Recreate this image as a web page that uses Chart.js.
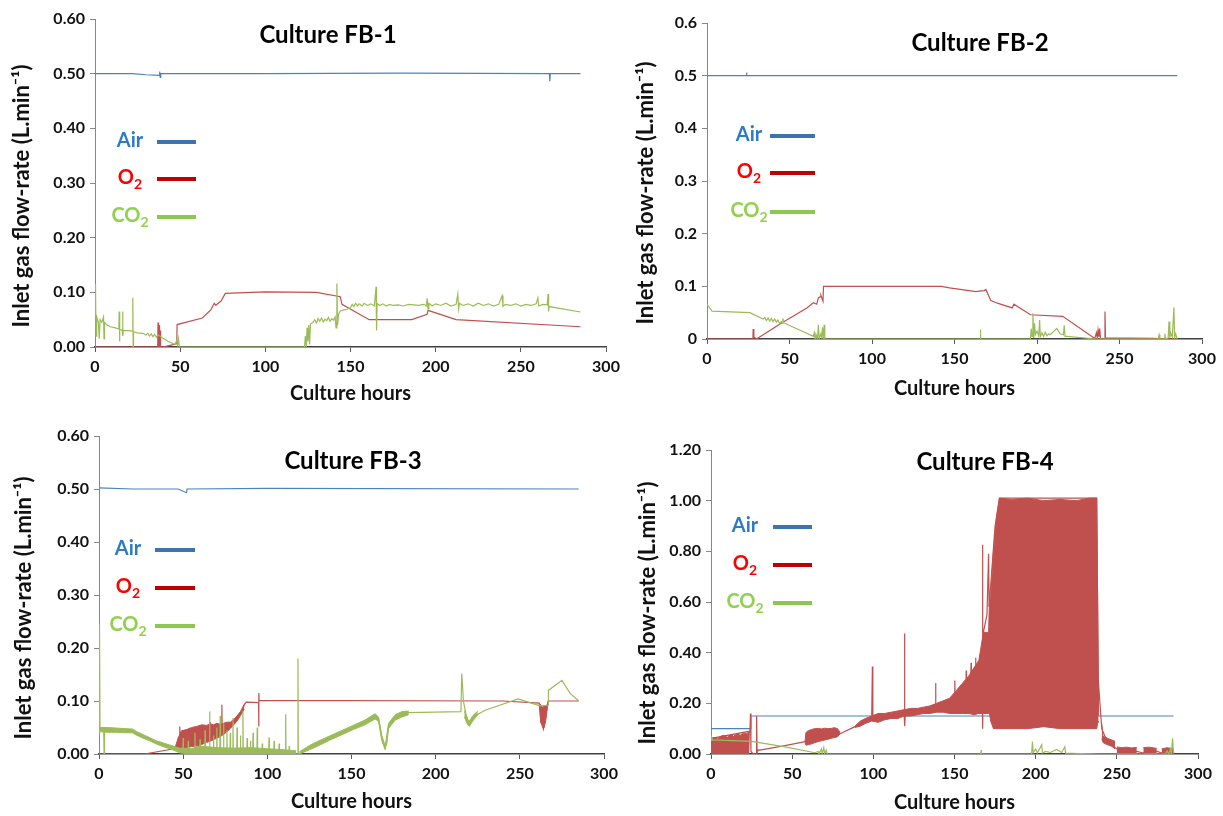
<!DOCTYPE html>
<html>
<head>
<meta charset="utf-8"/>
<style>
  html,body{margin:0;padding:0;background:#fff;}
  #wrap{position:relative;width:1223px;height:816px;overflow:hidden;background:#fff;}
  canvas{position:absolute;}
</style>
</head>
<body>
<div id="wrap">
  <canvas id="fb1" width="640" height="410" style="left:0;top:0"></canvas>
  <canvas id="fb3" width="640" height="406" style="left:0;top:410px"></canvas>
  <canvas id="fb2" width="611" height="410" style="left:612px;top:0"></canvas>
  <canvas id="fb4" width="611" height="406" style="left:612px;top:410px"></canvas>
</div>
<script src="https://cdn.jsdelivr.net/npm/chart.js@4.4.0/dist/chart.umd.min.js"></script>
<script>
// ---- data: [hour, L/min] pairs; bands are [hour, low, high] ----
const xTicks = [0, 50, 100, 150, 200, 250, 300];
const legendNames = ["Air", "O", "CO"];
const legendSubs  = ["", "2", "2"];

// Culture FB-1
const fb1Air = [[0,0.500],[22,0.500],[30,0.498],[37.8,0.497],[38,0.504],[38.3,0.493],[38.6,0.500],[100,0.500],[180,0.501],[266.8,0.500],[267,0.486],[267.3,0.500],[285,0.500]];
const fb1O2  = [[0,0],[36.8,0],[37,0.045],[37.3,0],[37.6,0.040],[37.9,0],[38.2,0.030],[38.5,0],[40,0],[44,0.003],[48,0.006],[48.2,0.041],[63,0.053],[68,0.068],[70,0.080],[71,0.076],[72,0.079],[74,0.084],[76.5,0.098],[100,0.101],[130,0.100],[144,0.092],[145,0.078],[161,0.050],[186,0.050],[195,0.060],[195.5,0.067],[212,0.050],[285,0.037]];
const fb1CO2 = [[0,0.060],[0.3,0.115],[0.6,0.020],[1,0.055],[2,0.045],[2.5,0.015],[3,0.050],[4,0.045],[5,0.055],[5.3,0.015],[5.6,0.045],[7,0.040],[9,0.037],[12,0.035],[14,0.033],[14.2,0.065],[14.4,0.010],[14.6,0.032],[16,0.031],[16.2,0.065],[16.4,0.020],[16.6,0.030],[20,0.030],[22,0.029],[22.2,0.090],[22.4,0],[22.6,0.028],[25,0.026],[28,0.025],[30,0.022],[31,0.025],[32,0.020],[33,0.024],[34,0.019],[35,0.023],[36,0.018],[37,0.022],[38,0.020],[40,0.016],[43,0.010],[46,0.006],[47,0.005],[48,0.012],[48.5,0.004],[49,0.015],[49.5,0],[123,0],[123.5,0.020],[124,0],[124.5,0.035],[125,0.010],[125.5,0.040],[126,0.005],[126.5,0.042],[128,0.045],[129,0.050],[130,0.044],[131,0.052],[132,0.047],[133,0.053],[134,0.046],[135,0.051],[136,0.048],[137,0.054],[138,0.047],[139,0.052],[140,0.049],[141,0.055],[141.5,0.035],[142,0.116],[142.4,0.040],[143,0.060],[144,0.066],[146,0.068],[148,0.069],[150,0.072],[151,0.078],[152,0.074],[153,0.080],[154,0.075],[155,0.079],[157,0.075],[158,0.080],[160,0.076],[162,0.079],[164,0.075],[165,0.110],[165.3,0.030],[165.6,0.080],[167,0.076],[169,0.079],[171,0.075],[173,0.078],[175,0.076],[178,0.077],[181,0.075],[184,0.078],[187,0.077],[190,0.076],[193,0.078],[194.5,0.075],[195,0.089],[195.5,0.070],[196,0.080],[198,0.075],[200,0.079],[203,0.076],[206,0.080],[209,0.075],[212,0.078],[213,0.097],[213.5,0.070],[214,0.080],[216,0.076],[219,0.079],[222,0.075],[225,0.080],[228,0.076],[231,0.079],[234,0.075],[237,0.078],[239,0.094],[239.5,0.074],[241,0.078],[244,0.076],[247,0.079],[250,0.075],[253,0.078],[256,0.076],[259,0.079],[260,0.090],[260.5,0.075],[263,0.078],[265.5,0.077],[266,0.097],[266.3,0.065],[266.6,0.074],[285,0.064]];

// Culture FB-2
const fb2Air = [[0,0.5],[23.8,0.5],[24,0.506],[24.2,0.5],[285,0.5]];
const fb2O2  = [[0,0],[27.8,0],[28,0.019],[28.4,0.004],[30,0],[45,0.030],[60.5,0.059],[64.5,0.069],[66.5,0.066],[67.5,0.078],[68.5,0.080],[69,0.083],[70.3,0.072],[70.6,0.100],[142,0.100],[147,0.097],[163,0.090],[165,0.091],[168,0.092],[169,0.094],[172,0.073],[176,0.068],[185,0.059],[186,0.066],[196,0.046],[215.6,0.043],[235,0.001],[236,0.012],[236.5,0.002],[237,0.017],[237.5,0.004],[238,0.020],[238.5,0],[241,0],[241.2,0.052],[241.5,0.002],[270,0.001],[285,0]];
const fb2CO2 = [[0,0.066],[3,0.053],[26,0.050],[34,0.038],[35,0.041],[36,0.035],[37,0.040],[38,0.034],[39,0.039],[40,0.033],[41,0.038],[42,0.032],[43,0.036],[44,0.030],[45,0.033],[45.8,0.030],[46,0.039],[46.4,0.031],[64.5,0.005],[65,0.012],[65.5,0],[66,0.009],[67,0.002],[67.5,0.027],[68,0],[69,0.010],[69.5,0.003],[70,0.022],[70.5,0],[71,0.027],[71.4,0],[165.5,0],[165.7,0.018],[165.9,0],[196,0],[196.5,0.020],[197,0.005],[197.5,0.049],[198,0.002],[198.5,0.030],[199,0.008],[200,0.015],[201,0.006],[201.6,0.036],[202,0.004],[203,0.012],[204,0.005],[205,0.013],[206,0.006],[207,0.010],[208,0.008],[210,0.014],[212,0.020],[214,0.010],[216,0.008],[216.5,0.026],[217,0.005],[218,0.005],[236,0],[273.5,0],[274,0.008],[274.5,0],[277,0],[277.5,0.010],[278,0],[279.5,0.002],[280,0.033],[280.5,0.002],[281,0.012],[282,0.004],[283,0.060],[283.4,0.002],[284,0.010],[285,0]];

// Culture FB-3
const fb3Air = [[0,0.502],[20,0.500],[47,0.500],[52,0.493],[52.3,0.500],[100,0.501],[285,0.500]];
const fb3O2  = [[0,0],[27,0],[43,0.009],[46,0.012],[47.8,0.015],[48,0.052],[48.2,0.02],[60,0.03],[65.8,0.04],[66,0.06],[66.2,0.03],[72.8,0.05],[73,0.093],[73.2,0.04],[84,0.075],[86.5,0.094],[87.5,0.098],[94.8,0.097],[94.9,0.052],[95,0.115],[95.1,0.101],[240,0.100],[261.5,0.096],[262.5,0.06],[264,0.047],[265,0.08],[266.5,0.095],[266.8,0.100],[285,0.100]];
const fb3O2BandA = [[45,0.008,0.010],[47,0.010,0.030],[49,0.011,0.044],[52,0.012,0.046],[55,0.014,0.050],[58,0.015,0.052],[61,0.018,0.055],[64,0.022,0.054],[66,0.024,0.057],[68,0.027,0.055],[70,0.030,0.058],[72,0.033,0.056],[74,0.037,0.058],[76,0.042,0.060],[78,0.048,0.060],[80,0.055,0.065],[82,0.062,0.072],[84,0.072,0.080],[86.3,0.085,0.094]];
const fb3O2BandB = [[261.8,0.090,0.095],[262.5,0.060,0.092],[263.5,0.055,0.088],[264.5,0.050,0.092],[265.5,0.065,0.089],[266.5,0.090,0.094]];
const fb3CO2 = [[0,0.040],[0.3,0.245],[0.6,0.045],[2.8,0.046],[3,0],[3.3,0.046],[20,0.044],[22,0.040],[30,0.028],[38,0.018],[46,0.008],[48,0.005],
  [49.8,0.004],[50,0.030],[50.2,0.004],[52.8,0.004],[53,0.025],[53.2,0.003],[56.8,0.004],[57,0.040],[57.2,0.004],[59.8,0.005],[60,0.028],[60.2,0.005],[62.8,0.004],[63,0.045],[63.2,0.003],
  [65.5,0.004],[65.7,0.080],[65.9,0.004],[67.8,0.003],[68,0.035],[68.2,0.003],[69.8,0.004],[70,0.050],[70.2,0.005],[71.8,0.004],[72,0.072],[72.2,0.004],[73.8,0.003],[74,0.058],[74.2,0.003],
  [75.8,0.004],[76,0.045],[76.2,0.005],[77.8,0.003],[78,0.040],[78.2,0.003],[79.4,0.004],[79.6,0.068],[79.8,0.004],[81.8,0.004],[82,0.050],[82.2,0.004],[83.8,0.003],[84,0.035],[84.2,0.003],
  [85.3,0.004],[85.5,0.082],[85.7,0.005],[87.8,0.003],[88,0.030],[88.2,0.003],[89.8,0.004],[90,0.025],[90.2,0.004],[91.3,0.003],[91.5,0.040],[91.7,0.003],[93.8,0.004],[94,0.050],[94.2,0.004],
  [96.8,0.003],[97,0.020],[97.2,0.003],[100.8,0.003],[101,0.031],[101.2,0.003],[103.8,0.002],[104,0.025],[104.2,0.002],[106.8,0.002],[107,0.020],[107.2,0.002],[110.7,0.002],[110.9,0.075],[111.1,0.002],
  [112.8,0.001],[113,0.015],[113.2,0.001],[118,0],[118.2,0.180],[118.4,0],
  [120,0.002],[125,0.012],[130,0.020],[137,0.030],[144,0.040],[151,0.050],[158,0.060],[165,0.071],[166,0.068],[168,0.031],[170,0.012],[171,0.020],[172,0.053],[176,0.069],[184,0.078],[215,0.080],[215.5,0.152],[216.5,0.100],[218,0.075],[220,0.056],[222,0.069],[229,0.082],[249,0.104],[262,0.091],[266.8,0.092],[267,0.120],[275,0.139],[280,0.114],[285,0.100]];
const fb3CO2BandA = [[0.6,0.042,0.050],[5,0.041,0.050],[10,0.041,0.049],[15,0.040,0.048],[20,0.040,0.047],[22,0.036,0.043],[26,0.030,0.037],[30,0.025,0.031],[34,0.019,0.025],[38,0.014,0.021],[42,0.010,0.017],[46,0.005,0.013],[48,0.002,0.011],[55,0,0.010],[60,0,0.015],[70,0,0.012],[80,0,0.011],[90,0,0.012],[100,0,0.010],[110,0,0.008],[117,0,0.006]];
const fb3CO2BandB = [[119,0,0.004],[125,0.008,0.016],[130,0.015,0.024],[137,0.026,0.034],[144,0.036,0.044],[151,0.046,0.054],[158,0.055,0.064],[164,0.066,0.076],[166,0.062,0.070],[168,0.025,0.035],[170,0.008,0.015],[172,0.048,0.058],[176,0.064,0.074],[180,0.070,0.080],[184,0.074,0.081]];
const fb3CO2BandC = [[217,0.070,0.082],[219,0.055,0.065],[220,0.052,0.062],[222,0.062,0.072],[225,0.074,0.081]];

// Culture FB-4
const fb4Air = [[0,0.10],[24.3,0.10],[24.5,0.15],[285,0.15]];
const fb4O2  = [[0,0],[0.3,0.062],[24,0.090],[24.3,0.160],[24.6,0.010],[26,0],[27.8,0],[28.1,0.150],[28.4,0.005],[29,0.016],[30,0.015],[45.6,0.033],[57.9,0.049],[79.5,0.080],[88.7,0.108],[99,0.147],[99.4,0.345],[99.7,0.140],[105,0.150],[112,0.155],[119,0.160],[119.2,0.476],[119.4,0.110],[119.7,0.160],[130,0.175],[138,0.190],[138.3,0.280],[138.6,0.180],[147,0.200],[150,0.210],[150.2,0.290],[150.4,0.200],[155,0.240],[157,0.250],[157.2,0.330],[157.4,0.220],[160,0.300],[160.2,0.360],[160.4,0.270],[162.8,0.320],[163,0.380],[163.2,0.300],[167,0.300],[167.2,0.826],[167.5,0.100],[167.8,0.480],[170,0.550],[171,0.790],[171.3,0.580],[175,0.900],[177.7,1.010],[237.6,1.010],[238.5,0.300],[240.7,0.100],[244,0.050],[249,0.025],[250,0.020],[262,0.010],[266,0.005],[275,0.010],[277,0.005],[285,0.010]];
const fb4O2BandA = [[0,0,0.060],[2,0,0.065],[4,0,0.060],[6,0,0.070],[8,0,0.074],[10,0,0.066],[12,0,0.076],[14,0,0.070],[16,0,0.080],[18,0,0.074],[20,0,0.082],[22,0,0.080],[23.5,0,0.090],[24,0,0.090]];
const fb4O2BandB = [[57.9,0.045,0.050],[58.5,0.035,0.085],[60,0.037,0.092],[62,0.040,0.097],[64,0.045,0.100],[66,0.049,0.101],[68,0.052,0.099],[70,0.055,0.102],[72,0.058,0.100],[74,0.062,0.101],[76,0.065,0.104],[78,0.068,0.100],[79.5,0.080,0.085]];
const fb4O2BandC = [[88.7,0.105,0.110],[92,0.110,0.130],[95,0.120,0.140],[99,0.130,0.150],[103,0.125,0.160],[107,0.135,0.160],[111,0.140,0.165],[115,0.140,0.170],[119,0.150,0.175],[123,0.150,0.180],[127,0.155,0.180],[131,0.160,0.185],[135,0.160,0.190],[139,0.165,0.200],[143,0.165,0.210],[147,0.160,0.220],[151,0.160,0.250],[155,0.160,0.280],[159,0.160,0.310],[162,0.155,0.340],[165,0.160,0.370],[167.8,0.160,0.480],[171,0.160,0.480],[171.5,0.160,0.600],[172.3,0.130,0.620],[174,0.100,0.800],[176,0.100,0.940],[177.7,0.100,1.010],[185,0.100,1.005],[195,0.100,1.010],[205,0.108,1.000],[215,0.100,1.005],[225,0.100,1.000],[233,0.100,1.010],[237.6,0.100,1.010],[238.2,0.120,0.600],[238.8,0.130,0.150]];
const fb4O2BandD = [[240.7,0.060,0.120],[241.5,0.045,0.070],[243,0.040,0.066],[245,0.035,0.060],[247,0.030,0.055],[248.9,0.020,0.050]];
const fb4O2BandE = [[250,0,0.028],[253,0,0.025],[256,0,0.027],[259,0,0.024],[262.3,0,0.026]];
const fb4O2BandF = [[266.3,0,0.025],[270,0,0.027],[274.6,0,0.022]];
const fb4O2BandG = [[277.6,0,0.020],[281,0,0.025],[285,0,0.020]];
const fb4CO2 = [[0,0.055],[0.4,0.066],[1,0.056],[25,0.050],[45.6,0.028],[64,0.005],[66,0.010],[66.5,0],[68,0.020],[68.5,0],[69.5,0.025],[70,0.002],[71,0.015],[71.5,0],[166.2,0],[166.4,0.016],[166.6,0],[197.5,0],[198,0.049],[198.5,0.005],[200,0.020],[201,0.004],[203.7,0.036],[204.2,0.004],[206,0.010],[209,0.006],[213,0.018],[216,0.006],[218,0.029],[218.4,0.003],[222,0.003],[240,0],[280,0],[281,0.012],[282,0],[283,0.020],[283.5,0],[284.4,0.062],[284.8,0.005],[285,0.010]];

// ---- styling ----
const FONT = "Lato, 'Open Sans', sans-serif";
const Y_TITLE = "Inlet gas flow-rate (L.min\u207B\u00B9)";
const C_AIR = "#4F81BD", C_O2 = "#C0504D", C_CO2 = "#9BBB59";
const legendText = ["#2E7BC4", "#FF0000", "#92D050"];
const legendLine = ["#3B73B3", "#C00000", "#8DC650"];

const toXY = pts => pts.map(p => ({ x: p[0], y: p[1] }));

function lineSet(pts, color) {
  return { data: toXY(pts), borderColor: color, borderWidth: 1.2, pointRadius: 0, fill: false, tension: 0 };
}
// a band is drawn as its upper edge plus a lower edge filled up to the previous (upper) dataset
function bandSets(band, color) {
  return [
    { data: band.map(b => ({ x: b[0], y: b[2] })), borderColor: color, borderWidth: 1, pointRadius: 0, fill: false },
    { data: band.map(b => ({ x: b[0], y: b[1] })), borderColor: color, borderWidth: 1, pointRadius: 0,
      fill: "-1", backgroundColor: color },
  ];
}

const decoPlugin = {
  id: "deco",
  afterDraw(chart, args, o) {
    const ctx = chart.ctx;
    ctx.save();
    ctx.textBaseline = "middle";
    ctx.textAlign = "center";
    ctx.fillStyle = "#000";
    ctx.font = `bold 24px ${FONT}`;
    ctx.fillText(o.title, o.titleX, o.titleY);

    // rotated y-axis title
    ctx.save();
    ctx.translate(o.yTitleX, o.yTitleY);
    ctx.rotate(-Math.PI / 2);
    ctx.fillStyle = "#111";
    ctx.font = `bold 22px ${FONT}`;
    ctx.fillText(Y_TITLE, 0, 0);
    ctx.restore();

    // legend: label, then a short thick line
    legendNames.forEach((name, i) => {
      const y = o.legendY[i];
      ctx.font = `bold 20px ${FONT}`;
      const w1 = ctx.measureText(name).width;
      ctx.font = `bold 14px ${FONT}`;
      const w2 = legendSubs[i] ? ctx.measureText(legendSubs[i]).width : 0;
      const x0 = o.legendTextX - (w1 + w2) / 2;
      ctx.textAlign = "left";
      ctx.fillStyle = legendText[i];
      ctx.font = `bold 20px ${FONT}`;
      ctx.fillText(name, x0, y);
      if (legendSubs[i]) {
        ctx.font = `bold 14px ${FONT}`;
        ctx.fillText(legendSubs[i], x0 + w1, y + 6);
      }
      ctx.strokeStyle = legendLine[i];
      ctx.lineWidth = 4;
      ctx.beginPath();
      ctx.moveTo(o.lineX0, y + 1);
      ctx.lineTo(o.lineX1, y + 1);
      ctx.stroke();
    });
    ctx.restore();
  }
};

function makePanel(id, p) {
  const datasets = [];
  p.co2Bands.forEach(b => datasets.push(...bandSets(b, C_CO2)));
  datasets.push(lineSet(p.co2, C_CO2));
  p.o2Bands.forEach(b => datasets.push(...bandSets(b, C_O2)));
  datasets.push(lineSet(p.o2, C_O2));
  datasets.push(lineSet(p.air, C_AIR));

  new Chart(document.getElementById(id), {
    type: "line",
    data: { datasets },
    options: {
      responsive: false,
      animation: false,
      events: [],
      layout: { padding: { left: 0, top: p.top, right: p.right, bottom: 0 } },
      plugins: {
        legend: { display: false },
        tooltip: { enabled: false },
        deco: p.deco,
      },
      scales: {
        x: {
          type: "linear", min: 0, max: 300,
          afterFit: s => { s.height = p.xHeight; },
          afterBuildTicks: s => { s.ticks = xTicks.map(v => ({ value: v })); },
          ticks: { color: "#111", font: { family: FONT, size: 16, weight: "bold" }, padding: 5, maxRotation: 0 },
          grid: { drawOnChartArea: false, drawTicks: true, tickLength: 5, tickColor: "#595959" },
          border: { display: true, color: "#404040", width: 1.6 },
          title: { display: true, text: "Culture hours", color: "#111",
                   font: { family: FONT, size: 20, weight: "bold" }, padding: { top: 0, bottom: p.xTitlePad } },
        },
        y: {
          type: "linear", min: 0, max: p.yMax,
          afterFit: s => { s.width = p.yWidth; },
          ticks: { stepSize: p.yStep, color: "#111", font: { family: FONT, size: 16, weight: "bold" }, padding: 5,
                   callback: p.yFmt },
          grid: { drawOnChartArea: false, drawTicks: true, tickLength: 5, tickColor: "#868686" },
          border: { display: true, color: "#868686", width: 1 },
        },
      },
    },
    plugins: [decoPlugin],
  });
}

const fmt2 = v => v.toFixed(2);
const fmt1 = v => (Math.abs(v) < 1e-9 ? "0" : v.toFixed(1));

makePanel("fb1", {
  air: fb1Air, o2: fb1O2, co2: fb1CO2, o2Bands: [], co2Bands: [],
  yMax: 0.6, yStep: 0.1, yFmt: fmt2,
  top: 19, right: 34, yWidth: 95, xHeight: 63, xTitlePad: 4,
  deco: { title: "Culture FB-1", titleX: 328, titleY: 35, yTitleX: 22, yTitleY: 196,
          legendTextX: 130, lineX0: 157, lineX1: 196, legendY: [141, 178, 216] },
});
makePanel("fb2", {
  air: fb2Air, o2: fb2O2, co2: fb2CO2, o2Bands: [], co2Bands: [],
  yMax: 0.6, yStep: 0.1, yFmt: fmt1,
  top: 23, right: 21, yWidth: 95, xHeight: 71, xTitlePad: 9,
  deco: { title: "Culture FB-2", titleX: 368, titleY: 43, yTitleX: 34, yTitleY: 193,
          legendTextX: 137, lineX0: 158, lineX1: 203, legendY: [135, 172, 211] },
});
makePanel("fb3", {
  air: fb3Air, o2: fb3O2, co2: fb3CO2, o2Bands: [fb3O2BandA, fb3O2BandB], co2Bands: [fb3CO2BandA, fb3CO2BandB, fb3CO2BandC],
  yMax: 0.6, yStep: 0.1, yFmt: fmt2,
  top: 26, right: 36, yWidth: 99, xHeight: 62, xTitlePad: 2,
  deco: { title: "Culture FB-3", titleX: 353, titleY: 51, yTitleX: 24, yTitleY: 198,
          legendTextX: 128, lineX0: 155, lineX1: 195, legendY: [139, 177, 215] },
});
makePanel("fb4", {
  air: fb4Air, o2: fb4O2, co2: fb4CO2,
  o2Bands: [fb4O2BandA, fb4O2BandB, fb4O2BandC, fb4O2BandD, fb4O2BandE, fb4O2BandF, fb4O2BandG], co2Bands: [],
  yMax: 1.2, yStep: 0.2, yFmt: fmt2,
  top: 40, right: 25, yWidth: 99, xHeight: 62, xTitlePad: 1,
  deco: { title: "Culture FB-4", titleX: 373, titleY: 52, yTitleX: 36, yTitleY: 203,
          legendTextX: 133, lineX0: 161, lineX1: 200, legendY: [116, 154, 192] },
});
</script>
</body>
</html>
